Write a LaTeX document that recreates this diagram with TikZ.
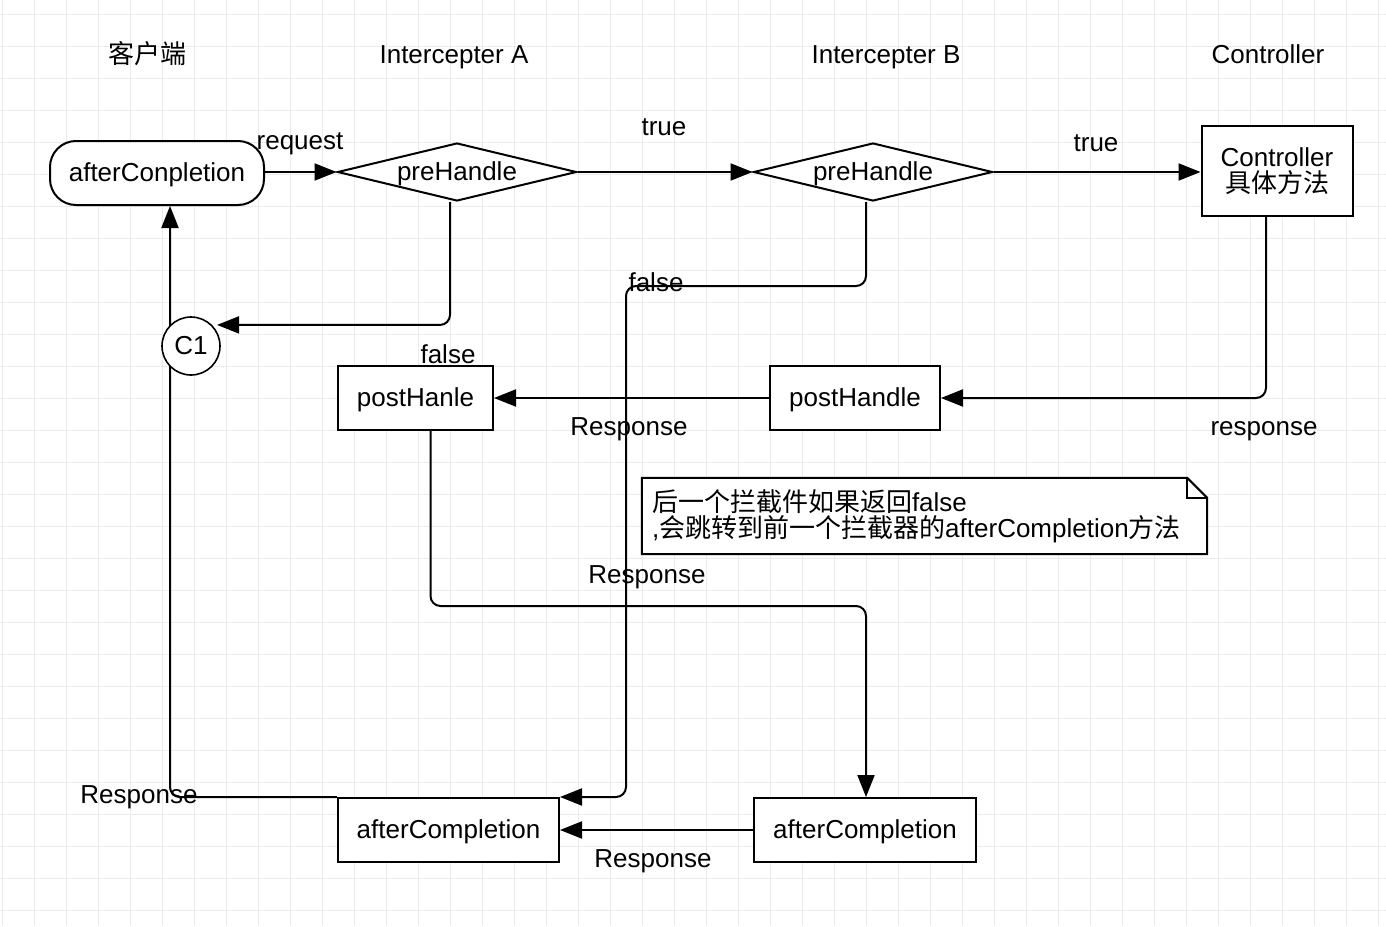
\documentclass[tikz,border=0pt]{standalone}
\usepackage{fontspec}
\setmainfont{Liberation Sans}
\newfontfamily\cjk{Noto Sans CJK SC}
\usetikzlibrary{arrows.meta,shapes.geometric}
\pgfdeclarelayer{gridlayer}
\pgfdeclarelayer{edgelayer}
\pgfsetlayers{gridlayer,edgelayer,main}

\begin{document}
\begin{tikzpicture}[x=1pt,y=-1pt,
  every node/.style={font=\fontsize{26}{26}\selectfont, inner sep=0pt},
  lbl/.style={text height=20pt, text depth=4pt},
  box/.style={draw, line width=2pt, fill=white, rectangle, text height=20pt, text depth=4pt},
  pill/.style={box, rounded corners=26pt},
  decision/.style={draw, line width=2pt, fill=white, diamond, shape aspect=4.1,
    text height=20pt, text depth=4pt},
  conn/.style={circle, draw, line width=1.6pt, fill=white, minimum size=58pt,
    text height=20pt, text depth=4pt},
  flow/.style={line width=2pt, rounded corners=10pt,
    -{Triangle[length=22pt,width=17pt]}},
  gridline/.style={draw=black!8, line width=1pt}
]
\useasboundingbox (0,0) rectangle (1386,926);

% background grid
\begin{pgfonlayer}{gridlayer}
  \fill[white] (0,0) rectangle (1386,926);
  \foreach \gx in {0,...,43} \draw[gridline] (2.5+32*\gx,0) -- (2.5+32*\gx,926);
  \foreach \gy in {0,...,28} \draw[gridline] (0,14+32*\gy) -- (1386,14+32*\gy);
\end{pgfonlayer}

% column titles
\node[lbl] (tclient) at (147,55) {\cjk 客户端};
\node[lbl] (tia) at (454,55) {Intercepter A};
\node[lbl] (tib) at (886,55) {Intercepter B};
\node[lbl] (tctl) at (1268,55) {Controller};

% nodes
\node[pill, minimum width=214pt, minimum height=64pt] (ac) at (157,173) {afterConpletion};
\node[decision, minimum width=239pt, minimum height=58pt] (pa) at (457,172) {preHandle};
\node[decision, minimum width=239pt, minimum height=58pt] (pb) at (873,172) {preHandle};
\node[draw, line width=2pt, fill=white, minimum width=151pt, minimum height=90pt,
  align=center] (ctl) at (1277,171) {Controller\\{\cjk 具体方法}};
\node[conn] (c1) at (191,346) {C1};
\node[box, minimum width=155pt, minimum height=64pt] (ph1) at (415.5,398) {postHanle};
\node[box, minimum width=170pt, minimum height=64pt] (ph2) at (855,398) {postHandle};
\node[box, minimum width=221pt, minimum height=64pt] (aa) at (448.5,830) {afterCompletion};
\node[box, minimum width=222pt, minimum height=64pt] (ab) at (865,830) {afterCompletion};

% note with folded corner: frame node, outline, then its text
\node[minimum width=565pt, minimum height=76pt] (note) at (924.5,516) {};
\draw[line width=2pt, line join=miter, fill=white]
  (note.north west) -- ([xshift=-20pt]note.north east) -- ([yshift=-20pt]note.north east)
  -- (note.south east) -- (note.south west) -- cycle;
\draw[line width=1.5pt]
  ([xshift=-20pt]note.north east) -- ([xshift=-20pt,yshift=-20pt]note.north east)
  -- ([yshift=-20pt]note.north east);
\node[text width=545pt, align=left] (notetext) at (note.center)
  {{\cjk 后一个拦截件如果返回}false\\,{\cjk 会跳转到前一个拦截器的}afterCompletion{\cjk 方法}};

% bend points of the long connectors
\coordinate (fb) at (626,286);
\coordinate (rb) at (866,606);

% connectors
\begin{pgfonlayer}{edgelayer}
  \draw[flow] (ac.east |- pa.west) -- (pa.west);
  \draw[flow] (pa.east) -- (pb.west);
  \draw[flow] (pb.east) -- (ctl.west |- pb.east);
  \draw[flow, shorten >=5pt] ([xshift=-7pt]pa.south) |- (c1.north east);
  \draw[flow] ([xshift=-7pt]pb.south) |- (fb) |- (aa.north east);
  \draw[flow] ([xshift=-11pt]ctl.south) |- (ph2.east);
  \draw[flow] (ph2.west) -- (ph1.east);
  \draw[flow] ([xshift=15pt]ph1.south) |- (rb) -- (rb |- ab.north);
  \draw[flow] (ab.west) -- (aa.east);
  \draw[flow] (aa.north west) -| ([xshift=13pt]ac.south);
\end{pgfonlayer}

% connector labels
\node[lbl] (lreq) at (300,141) {request};
\node[lbl] (ltrue1) at (664,127) {true};
\node[lbl] (ltrue2) at (1096,143) {true};
\node[lbl] (lfalse1) at (656,283) {false};
\node[lbl] (lfalse2) at (448,355) {false};
\node[lbl] (lresp1) at (629,427) {Response};
\node[lbl] (lresp2) at (1264,427) {response};
\node[lbl] (lresp3) at (647,575) {Response};
\node[lbl] (lresp4) at (139,795) {Response};
\node[lbl] (lresp5) at (653,859) {Response};
\end{tikzpicture}
\end{document}
